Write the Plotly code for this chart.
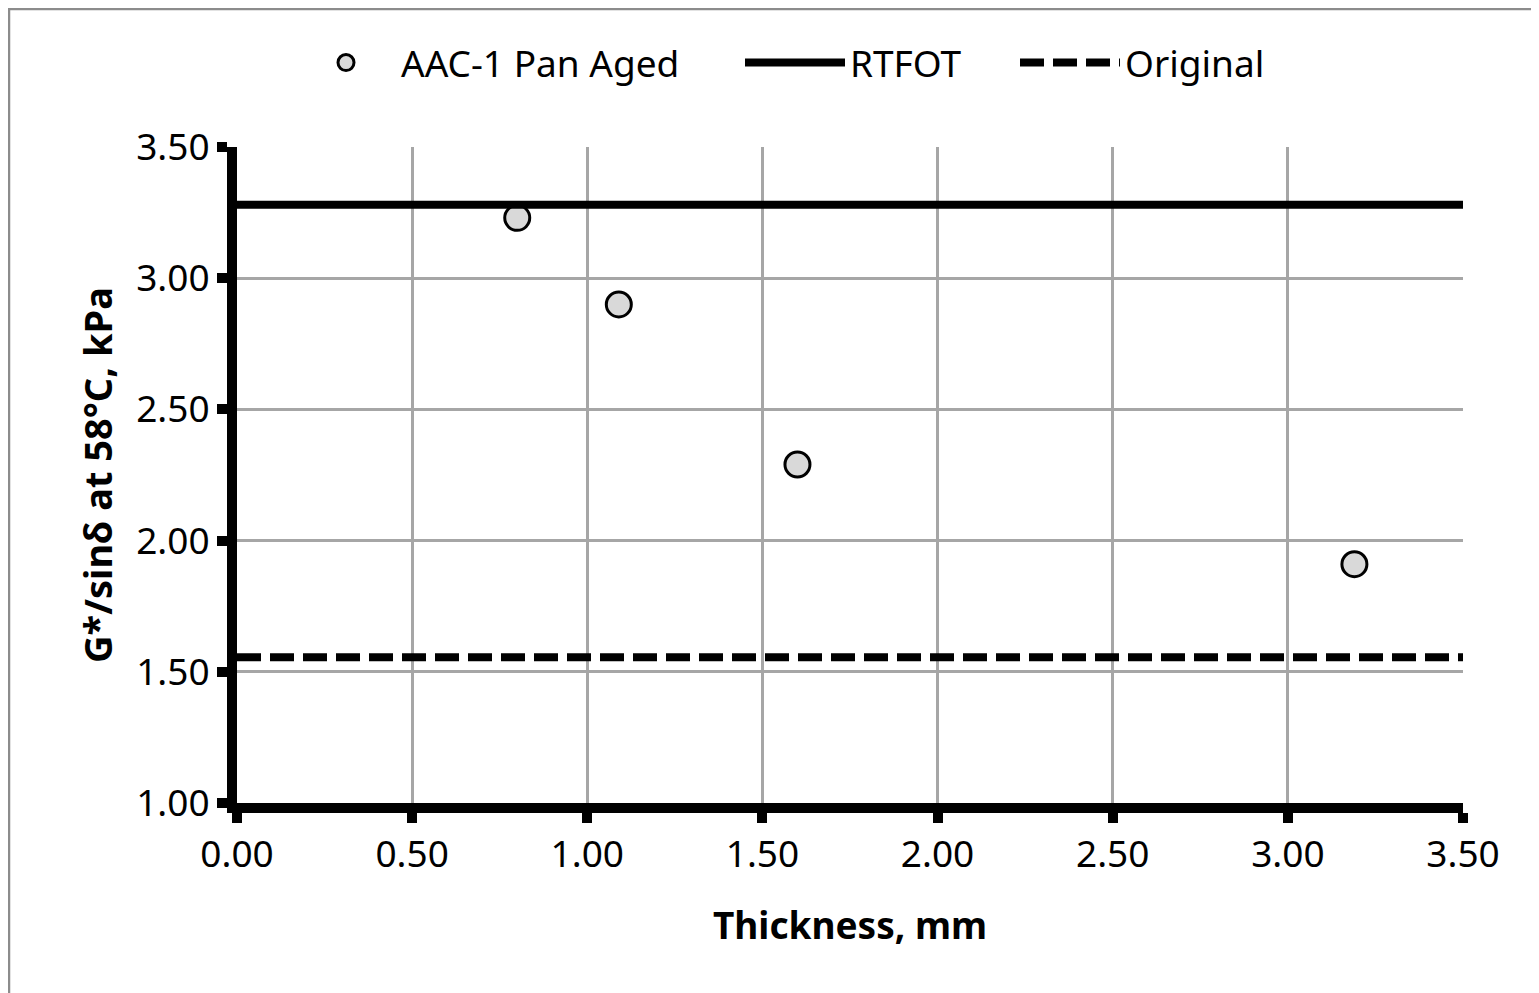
import plotly.graph_objects as go

# Data
thickness = [0.80, 1.09, 1.60, 3.19]
gstar = [3.23, 2.90, 2.29, 1.91]
rtfot_value = 3.28
original_value = 1.555
x_range = [0.0, 3.5]
y_range = [1.0, 3.5]
tick_vals_x = [0.0, 0.5, 1.0, 1.5, 2.0, 2.5, 3.0, 3.5]
tick_vals_y = [1.0, 1.5, 2.0, 2.5, 3.0, 3.5]

FONT = "Noto Sans"

fig = go.Figure()
fig.add_trace(go.Scatter(
    x=thickness, y=gstar, mode="markers", name="AAC-1 Pan Aged", legend="legend",
    marker=dict(size=25, color="#d9d9d9", line=dict(color="black", width=3)),
))
fig.add_trace(go.Scatter(
    x=x_range, y=[rtfot_value, rtfot_value], mode="lines", name="RTFOT", legend="legend2",
    line=dict(color="black", width=8),
))
fig.add_trace(go.Scatter(
    x=x_range, y=[original_value, original_value], mode="lines", name="Original", legend="legend3",
    line=dict(color="black", width=8, dash="24px,9px"),
))

L, R, T, B = 229, 84, 139, 198
W, H = 1539, 993
pw = W - L - R
ph = H - T - B
bottom_y = H - B


def px_x(fx):
    return (fx - L) / pw


def px_y(fy):
    return (bottom_y - fy) / ph


# outer chart border
fig.add_shape(type="rect", xref="paper", yref="paper",
              x0=px_x(1), x1=px_x(W + 10), y0=px_y(H + 10), y1=px_y(1),
              line=dict(color="#8c8c8c", width=2.5), layer="below")

leg_common = dict(orientation="h", xanchor="left", y=px_y(55), yanchor="middle",
                  font=dict(size=37, family=FONT), bgcolor="rgba(0,0,0,0)")

fig.update_layout(
    width=W, height=H,
    margin=dict(l=L, r=R, t=T, b=B),
    paper_bgcolor="white", plot_bgcolor="white",
    font=dict(family=FONT, size=37, color="black"),
    showlegend=True,
    legend=dict(x=px_x(283), itemwidth=100, **leg_common),
    legend2=dict(x=px_x(732), itemwidth=100, **leg_common),
    legend3=dict(x=px_x(1007), itemwidth=100, **leg_common),
    xaxis=dict(
        range=x_range, tickvals=tick_vals_x, tickformat=".2f",
        showgrid=True, gridcolor="#a6a6a6", gridwidth=2.5, zeroline=False,
        showline=True, linecolor="black", linewidth=10,
        ticks="outside", ticklen=10, tickwidth=10, tickcolor="black",
        tickfont=dict(size=37, family=FONT),
        title=dict(text="<b>Thickness, mm</b>", font=dict(size=37, family=FONT), standoff=40),
    ),
    yaxis=dict(
        range=y_range, tickvals=tick_vals_y, tickformat=".2f",
        showgrid=True, gridcolor="#a6a6a6", gridwidth=2.5, zeroline=False,
        showline=True, linecolor="black", linewidth=10,
        ticks="outside", ticklen=10, tickwidth=10, tickcolor="black",
        tickfont=dict(size=37, family=FONT),
        title=dict(text="<b>G*/sinδ at 58°C, kPa</b>", font=dict(size=38, family=FONT), standoff=16),
    ),
)

fig.write_html("out.html")
